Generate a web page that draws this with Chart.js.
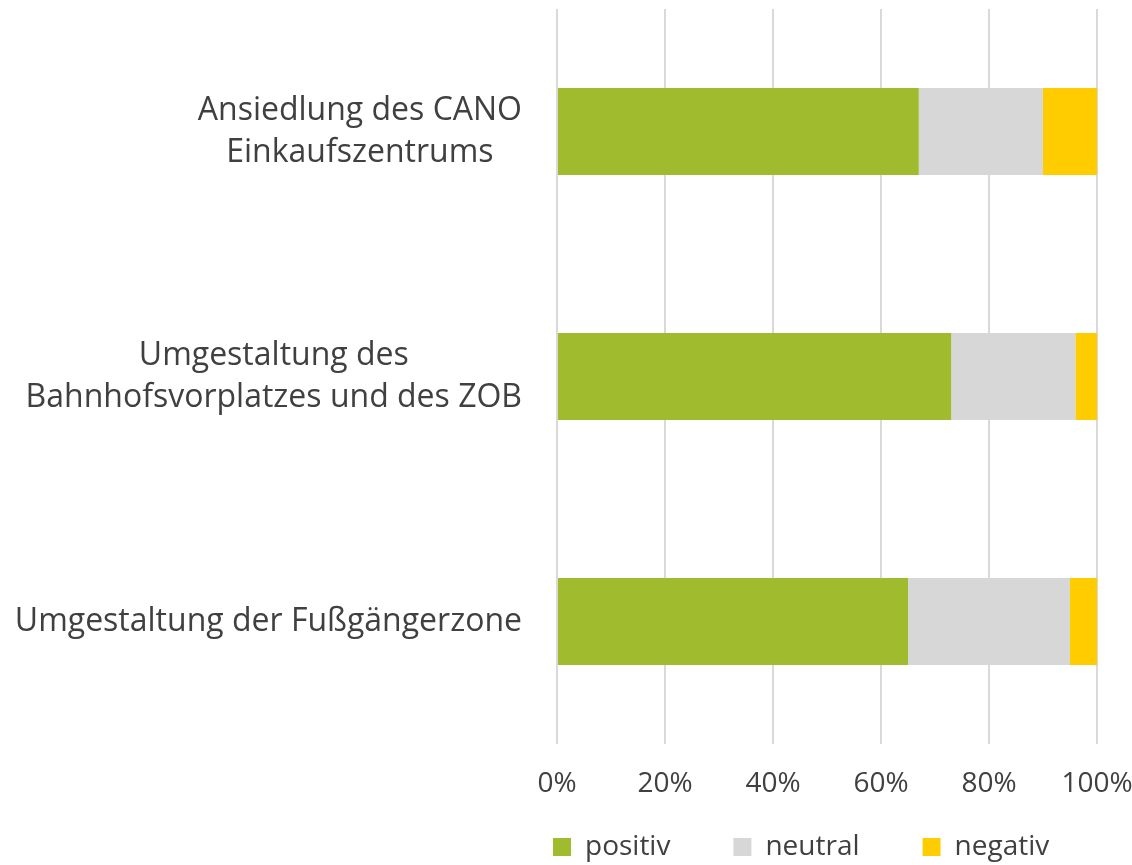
<!DOCTYPE html>
<html>
<head>
<meta charset="utf-8">
<script src="https://cdn.jsdelivr.net/npm/chart.js@4.4.1/dist/chart.umd.min.js"></script>
<style>
  html, body { margin: 0; padding: 0; background: #fff; }
  #wrap { width: 1132px; height: 865px; position: relative; }
</style>
</head>
<body>
<div id="wrap"><canvas id="bewertungChart"></canvas></div>
<script>
var categories = [
  ["Ansiedlung des CANO", "Einkaufszentrums"],
  ["Umgestaltung des", "Bahnhofsvorplatzes und des ZOB"],
  "Umgestaltung der Fußgängerzone"
];
var positiv = [67, 73, 65];
var neutral = [23, 23, 30];
var negativ = [10, 4, 5];
var xTicks = [0, 20, 40, 60, 80, 100];

var textColor = "#404040";
var fontName = "'Open Sans'";
var legendGap = 63;

// category labels: each block right-aligned, its lines centred (as in Excel)
const yLabels = {
  id: "yLabels",
  afterDraw: function(chart) {
    var scale = chart.scales.y;
    var ctx = chart.ctx;
    var lineH = 42;
    var right = chart.chartArea.left - 35;
    ctx.save();
    ctx.font = "32px " + fontName;
    ctx.fillStyle = textColor;
    ctx.textAlign = "center";
    ctx.textBaseline = "middle";
    chart.data.labels.forEach(function(lab, i) {
      var lines = [].concat(lab);
      var w = Math.max.apply(null, lines.map(function(l) { return ctx.measureText(l).width; }));
      var cx = right - w / 2;
      var y0 = scale.getPixelForTick(i) - (lines.length - 1) * lineH / 2;
      lines.forEach(function(l, j) { ctx.fillText(l, cx, y0 + j * lineH); });
    });
    ctx.restore();
  }
};

// move the legend under the plot area, like the original
const legendPlace = {
  id: "legendPlace",
  afterLayout: function(chart) {
    var lg = chart.legend;
    lg.left = chart.chartArea.left - legendGap - 4;
    lg.right = chart.width;
    lg.width = lg.right - lg.left;
    lg.top = 833 - legendGap;
  }
};

const chart = new Chart("bewertungChart", {
  type: "bar",
  data: {
    labels: categories,
    datasets: [
      { label: "positiv", data: positiv, backgroundColor: "#A0BB2E" },
      { label: "neutral", data: neutral, backgroundColor: "#D7D7D7" },
      { label: "negativ", data: negativ, backgroundColor: "#FFCC00" }
    ]
  },
  options: {
    indexAxis: "y",
    responsive: true,
    maintainAspectRatio: false,
    animation: false,
    layout: { padding: { top: 9, left: 0, right: 35, bottom: 0 } },
    datasets: {
      bar: { categoryPercentage: 1, barPercentage: 0.355 }
    },
    scales: {
      x: {
        stacked: true,
        min: 0,
        max: 100,
        afterBuildTicks: function(scale) {
          scale.ticks = xTicks.map(function(v) { return { value: v }; });
        },
        afterFit: function(scale) {
          scale.height = 51;
          scale.paddingLeft = 0;
          scale.paddingRight = 0;
        },
        grid: { color: "#D9D9D9", lineWidth: 2, drawTicks: false },
        border: { display: false },
        ticks: {
          padding: 23,
          color: textColor,
          font: { family: fontName, size: 28 },
          callback: function(v) { return v + "%"; }
        }
      },
      y: {
        stacked: true,
        afterFit: function(scale) { scale.width = 557; },
        grid: { display: false },
        border: { display: false },
        ticks: { display: false }
      }
    },
    plugins: {
      legend: {
        position: "bottom",
        align: "start",
        maxHeight: 70,
        labels: {
          boxWidth: 18,
          boxHeight: 18,
          padding: legendGap,
          color: textColor,
          font: { family: fontName, size: 28 }
        }
      },
      tooltip: { enabled: false }
    }
  },
  plugins: [yLabels, legendPlace]
});
</script>
</body>
</html>
